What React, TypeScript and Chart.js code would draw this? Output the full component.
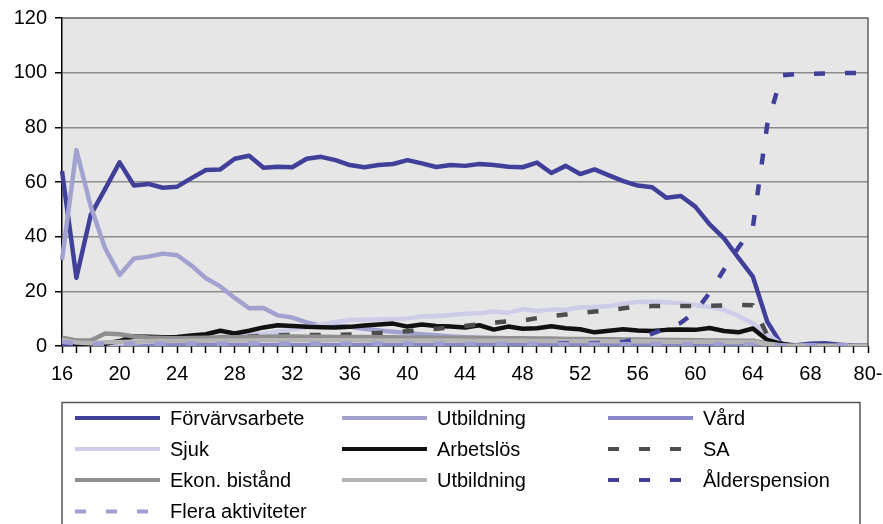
import { useEffect, useRef } from 'react';
import { Chart, registerables } from 'chart.js';

Chart.register(...registerables);

const ages = [
  '16', '17', '18', '19', '20', '21', '22', '23', '24', '25', '26', '27', '28', '29', '30', '31',
  '32', '33', '34', '35', '36', '37', '38', '39', '40', '41', '42', '43', '44', '45', '46', '47',
  '48', '49', '50', '51', '52', '53', '54', '55', '56', '57', '58', '59', '60', '61', '62', '63',
  '64', '65', '66', '67', '68', '69', '70-74', '75-79', '80-',
];

const forvarvsarbete = [
  64, 25, 48, 57.5, 67.2, 58.7, 59.3, 57.9, 58.3, 61.4, 64.4, 64.6, 68.5, 69.6, 65.2, 65.6,
  65.4, 68.5, 69.2, 68, 66.2, 65.4, 66.2, 66.6, 68, 66.8, 65.5, 66.2, 65.9, 66.6, 66.2, 65.6,
  65.4, 67.1, 63.3, 65.9, 62.9, 64.6, 62.4, 60.3, 58.7, 58.1, 54.2, 54.9, 51, 44.5, 39.4, 32.2,
  25.4, 8.9, 0.5, 0.3, 0.8, 1.0, 0.5, 0.1, 0,
];

const utbildning = [
  31.5, 71.7, 51, 35.7, 26, 32, 32.7, 33.8, 33.2, 29.4, 24.8, 21.8, 17.6, 13.8, 13.9, 11.2,
  10.4, 8.6, 7.4, 7.5, 7, 6.3, 5.7, 5.2, 4.8, 4.3, 3.9, 3.5, 3.2, 3, 2.8, 2.6,
  2.4, 2.2, 2.1, 2, 1.9, 1.8, 1.7, 1.6, 1.5, 1.4, 1.3, 1.2, 1.1, 1, 0.9, 0.8,
  0.7, 0.3, 0.1, 0, 0, 0, 0, 0, 0,
];

const vard = [
  0.3, 0.2, 0.2, 0.2, 0.3, 0.3, 0.3, 0.3, 0.3, 0.3, 0.3, 0.3, 0.3, 0.3, 0.3, 0.3,
  0.3, 0.3, 0.3, 0.3, 0.3, 0.3, 0.3, 0.3, 0.3, 0.3, 0.3, 0.3, 0.3, 0.3, 0.3, 0.3,
  0.3, 0.3, 0.3, 0.3, 0.3, 0.3, 0.3, 0.3, 0.3, 0.3, 0.3, 0.3, 0.3, 0.3, 0.3, 0.3,
  0.3, 0.2, 0.1, 0.1, 0.1, 0.1, 0.1, 0.1, 0.1,
];

const sjuk = [
  0.2, 0.3, 0.5, 0.8, 1, 1.3, 1.6, 2, 2.3, 2.6, 3, 3.3, 3.7, 4.1, 4.6, 5.2,
  6, 6.8, 7.8, 8.8, 9.5, 9.6, 9.8, 9.9, 10.1, 10.8, 11, 11.3, 11.8, 12, 12.6, 12.1,
  13.5, 12.8, 13.4, 13.2, 14.2, 14.3, 14.6, 15.5, 16.1, 16.2, 16, 15.6, 15, 14.3, 13.2, 11,
  8.3, 4.4, 0.5, 0.3, 0.2, 0.1, 0, 0, 0,
];

const arbetslos = [
  0, 0, 0.5, 0.8, 1.8, 3.5, 3.4, 3.2, 3.3, 3.8, 4.3, 5.6, 4.6, 5.6, 6.8, 7.6,
  7.3, 7, 6.9, 6.8, 7, 7.5, 7.9, 8.2, 7.1, 7.9, 7.3, 7.1, 6.8, 7.6, 6, 7.1,
  6.3, 6.5, 7.2, 6.5, 6.1, 5, 5.6, 6.1, 5.7, 5.5, 5.9, 6, 5.9, 6.6, 5.5, 5,
  6.4, 2.2, 0.8, 0, 0, 0, 0, 0, 0,
];

const sa = [
  0, 0, 0.2, 0.4, 0.8, 1.2, 1.6, 2, 2.3, 2.6, 2.9, 3.1, 3.3, 3.5, 3.7, 3.9,
  4, 4, 4, 4, 4.2, 4.5, 4.8, 5.1, 5.4, 5.8, 6.3, 6.8, 7.3, 8, 8.6, 9,
  9.3, 10.2, 11, 11.5, 12, 12.6, 13.1, 13.8, 14.5, 14.6, 14.6, 14.6, 14.6, 14.7, 14.8, 15,
  14.9, 4, 0, 0, 0, 0, 0, 0, 0,
];

const ekonBistand = [
  3, 2, 2, 4.6, 4.3, 3.5, 3.1, 2.9, 2.8, 2.9, 3, 3.1, 3.2, 3.3, 3.4, 3.5,
  3.5, 3.4, 3.4, 3.3, 3.3, 3.3, 3.2, 3.2, 3.1, 3.1, 3, 3, 3, 2.9, 2.9, 2.8,
  2.8, 2.7, 2.7, 2.6, 2.6, 2.5, 2.5, 2.4, 2.4, 2.3, 2.2, 2.2, 2.1, 2, 2, 1.9,
  1.9, 0.9, 0.2, 0, 0, 0, 0, 0, 0,
];

const utbildning2 = [
  2.2, 1.3, 1, 1.4, 1.5, 1.6, 1.7, 1.8, 1.8, 1.9, 1.9, 2, 2, 2, 2.1, 2.1,
  2.1, 2.1, 2.1, 2.1, 2.1, 2, 2, 2, 2, 2, 2, 2, 1.9, 1.9, 1.9, 1.9,
  1.9, 1.8, 1.8, 1.8, 1.8, 1.8, 1.7, 1.7, 1.7, 1.7, 1.6, 1.6, 1.6, 1.6, 1.5, 1.5,
  1.5, 0.7, 0.2, 0, 0, 0, 0, 0, 0,
];

const alderspension = [
  0, 0, 0, 0, 0, 0, 0, 0, 0, 0, 0, 0, 0, 0, 0, 0,
  0, 0, 0, 0, 0, 0, 0, 0, 0, 0, 0, 0, 0, 0, 0.2, 0.3,
  0.5, 0.6, 0.8, 1, 0.9, 1, 1.2, 1.5, 2.5, 4.5, 6.5, 8.5, 12.5, 19.5, 28, 36,
  43.5, 81, 99, 99.5, 99.6, 99.7, 99.8, 99.9, 100,
];

const fleraAktiviteter = [
  1.5, 1, 0.8, 0.8, 0.8, 0.8, 0.8, 0.8, 0.8, 0.8, 0.8, 0.8, 0.8, 0.8, 0.8, 0.8,
  0.8, 0.8, 0.8, 0.8, 0.8, 0.8, 0.8, 0.8, 0.8, 0.8, 0.8, 0.7, 0.7, 0.7, 0.7, 0.7,
  0.7, 0.7, 0.7, 0.7, 0.7, 0.7, 0.7, 0.7, 0.6, 0.6, 0.6, 0.6, 0.6, 0.6, 0.6, 0.6,
  0.5, 0.4, 0.3, 0.3, 0.3, 0.3, 0.3, 0.3, 0.3,
];

const seriesNames = [
  'Förvärvsarbete', 'Utbildning', 'Vård',
  'Sjuk', 'Arbetslös', 'SA',
  'Ekon. bistånd', 'Utbildning', 'Ålderspension',
  'Flera aktiviteter',
];

const FONT = "'Liberation Sans', Arial, sans-serif";
const DASH = [11, 20];

const legendPlugin = {
  id: 'boxLegend',
  beforeDraw(chart: any) {
    const { ctx, chartArea } = chart;
    ctx.save();
    ctx.fillStyle = '#e6e6e6';
    ctx.fillRect(chartArea.left, chartArea.top, chartArea.right - chartArea.left, chartArea.bottom - chartArea.top);
    ctx.restore();
  },
  afterDraw(chart: any) {
    const { ctx, chartArea } = chart;
    ctx.save();
    ctx.strokeStyle = '#606060';
    ctx.lineWidth = 1.5;
    ctx.beginPath();
    ctx.moveTo(chartArea.left, chartArea.top);
    ctx.lineTo(chartArea.right, chartArea.top);
    ctx.lineTo(chartArea.right, chartArea.bottom);
    ctx.stroke();

    ctx.strokeStyle = '#555555';
    ctx.lineWidth = 1.5;
    ctx.strokeRect(62, 402.5, 798, 160);

    const colX = [75, 342, 608];
    const rowY = [418, 449, 480, 511.5];
    chart.data.datasets.forEach((ds: any, i: number) => {
      const x = colX[i % 3];
      const y = rowY[Math.floor(i / 3)];
      ctx.strokeStyle = ds.borderColor;
      ctx.lineWidth = 4;
      ctx.lineCap = 'butt';
      ctx.setLineDash(ds.borderDash || []);
      ctx.beginPath();
      ctx.moveTo(x, y);
      ctx.lineTo(x + 85, y);
      ctx.stroke();
      ctx.setLineDash([]);
      ctx.fillStyle = '#000';
      ctx.font = `20px ${FONT}`;
      ctx.textBaseline = 'middle';
      ctx.textAlign = 'left';
      ctx.fillText(ds.label, x + 95, y + 1);
    });
    ctx.restore();
  },
};

export default function App() {
  const canvasRef = useRef<HTMLCanvasElement | null>(null);

  useEffect(() => {
    if (!canvasRef.current) return;
    const values = [
      forvarvsarbete, utbildning, vard, sjuk, arbetslos, sa,
      ekonBistand, utbildning2, alderspension, fleraAktiviteter,
    ];
    const colors = [
      '#40409a', '#a2a2d0', '#8888c8', '#cdcdea', '#111111', '#4d4d4d',
      '#8f8f8f', '#b4b4b4', '#40409a', '#9e9ed2',
    ];
    const dashed = [false, false, false, false, false, true, false, false, true, true];
    const datasets = values.map((data, i) => ({
      label: seriesNames[i],
      data,
      borderColor: colors[i],
      backgroundColor: colors[i],
      borderWidth: 4.5,
      borderDash: dashed[i] ? DASH : [],
      borderCapStyle: 'butt' as const,
      borderJoinStyle: 'round' as const,
      pointRadius: 0,
      tension: 0,
      fill: false,
      order: values.length - i,
    }));

    const chart = new Chart(canvasRef.current, {
      type: 'line',
      data: { labels: ages, datasets },
      options: {
        animation: false,
        responsive: false,
        maintainAspectRatio: false,
        layout: { padding: { top: 18, right: 15, bottom: 133, left: 0 } },
        plugins: {
          legend: { display: false },
          tooltip: { enabled: false },
        },
        scales: {
          x: {
            type: 'category',
            offset: false,
            grid: {
              drawOnChartArea: false,
              drawTicks: true,
              tickLength: 7,
              tickColor: '#000',
              tickWidth: 1.5,
              offset: false,
            },
            border: { color: '#000', width: 1.5 },
            ticks: {
              autoSkip: false,
              maxRotation: 0,
              minRotation: 0,
              padding: 9,
              color: '#000',
              font: { family: FONT, size: 20 },
              callback: (_v: any, idx: number) => (idx % 4 === 0 ? ages[idx] : ''),
            },
            afterFit: (s: any) => {
              s.height = 45;
              s.paddingLeft = 0;
              s.paddingRight = 0;
            },
          },
          y: {
            min: 0,
            max: 120,
            ticks: {
              stepSize: 20,
              padding: 8,
              color: '#000',
              font: { family: FONT, size: 20 },
            },
            grid: {
              color: (c: any) => (c.tick && (c.tick.value === 0 || c.tick.value === 120) ? 'rgba(0,0,0,0)' : '#8c8c8c'),
              lineWidth: 1.5,
              tickColor: '#000',
              tickLength: 7,
              tickWidth: 1.5,
            },
            border: { color: '#000', width: 1.5 },
            afterFit: (s: any) => {
              s.width = 62;
              s.paddingTop = 0;
              s.paddingBottom = 0;
            },
          },
        },
      },
      plugins: [legendPlugin],
    });
    return () => chart.destroy();
  }, []);

  return (
    <div style={{ position: 'fixed', left: 0, top: 0, width: 883, height: 524, background: '#fff' }}>
      <canvas ref={canvasRef} width={883} height={524} style={{ display: 'block', width: 883, height: 524 }} />
    </div>
  );
}
